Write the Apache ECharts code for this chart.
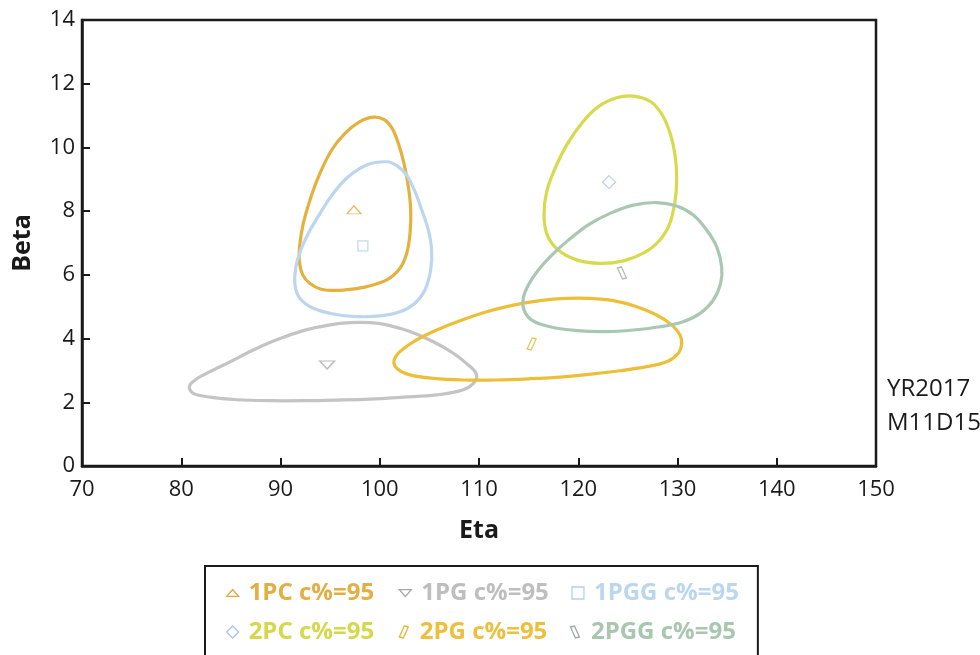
<!DOCTYPE html>
<html><head><meta charset="utf-8">
<script src="https://cdn.jsdelivr.net/npm/echarts@6/dist/echarts.min.js"></script>
<style>html,body{margin:0;padding:0;background:#fff}#c{width:980px;height:655px}</style>
</head><body><div id="c"></div>
<script>
// ---- data ----
const xTicks = [70, 80, 90, 100, 110, 120, 130, 140, 150];
const yTicks = [0, 2, 4, 6, 8, 10, 12, 14];
const groupNames = ['1PC c%=95', '1PG c%=95', '1PGG c%=95', '2PC c%=95', '2PG c%=95', '2PGG c%=95'];

const contour1PC = [[99.35,10.95],[100.45,10.87],[101.25,10.60],[101.87,10.13],[102.44,9.50],[102.88,8.77],[103.12,8.04],[103.05,7.30],[102.72,6.68],[102.04,6.21],[100.70,5.84],[98.69,5.63],[97.20,5.55],[95.59,5.51],[94.10,5.55],[93.00,5.72],[92.24,6.00],[91.89,6.47],[91.96,6.99],[92.30,7.62],[92.97,8.35],[93.98,9.19],[95.16,9.92],[96.50,10.44],[97.95,10.80]];
const contour1PG = [[99.02,4.50],[100.70,4.43],[103.05,4.22],[105.40,3.90],[107.41,3.54],[108.92,3.17],[109.70,2.91],[109.60,2.65],[108.42,2.39],[105.74,2.23],[102.37,2.16],[99.02,2.10],[95.66,2.07],[92.30,2.05],[88.94,2.05],[85.59,2.08],[82.90,2.16],[81.21,2.28],[80.81,2.49],[81.39,2.70],[82.90,2.96],[84.91,3.27],[87.26,3.64],[89.62,3.96],[92.30,4.25],[94.99,4.43],[97.00,4.50]];
const contour1PGG = [[100.70,9.55],[101.75,9.42],[102.72,9.13],[103.55,8.61],[104.23,8.04],[104.89,7.41],[105.23,6.78],[105.13,6.15],[104.56,5.53],[103.55,5.11],[102.04,4.84],[100.03,4.71],[97.68,4.69],[95.32,4.77],[93.31,4.95],[91.96,5.26],[91.46,5.68],[91.56,6.26],[92.04,6.78],[92.80,7.30],[93.98,7.93],[95.32,8.56],[96.83,9.08],[98.69,9.45]];
const contour2PC = [[125.55,11.61],[127.23,11.45],[128.41,11.05],[129.25,10.45],[129.75,9.76],[129.92,9.03],[129.75,8.30],[129.17,7.57],[128.07,7.04],[126.56,6.68],[124.54,6.44],[122.19,6.36],[119.84,6.47],[117.99,6.78],[116.88,7.25],[116.55,7.88],[116.82,8.61],[117.66,9.34],[118.84,10.08],[120.35,10.76],[122.02,11.28],[123.87,11.56]];
const contour2PG = [[121.18,5.26],[123.53,5.19],[125.89,5.00],[127.90,4.74],[129.42,4.43],[130.25,4.11],[130.42,3.85],[130.08,3.54],[128.91,3.27],[126.90,3.12],[124.21,2.99],[121.52,2.89],[118.49,2.80],[115.14,2.74],[111.78,2.70],[108.42,2.70],[105.40,2.75],[103.05,2.86],[101.71,3.07],[101.44,3.31],[102.04,3.59],[103.72,3.96],[105.74,4.27],[108.09,4.56],[110.78,4.84],[113.46,5.05],[116.15,5.19],[118.84,5.26]];
const contour2PGG = [[127.90,8.27],[129.92,8.16],[131.59,7.88],[132.94,7.41],[133.95,6.88],[134.45,6.26],[134.35,5.74],[133.61,5.21],[132.27,4.79],[130.58,4.53],[128.24,4.37],[125.55,4.27],[122.87,4.22],[119.84,4.25],[117.15,4.37],[115.31,4.58],[114.53,4.90],[114.46,5.26],[114.97,5.68],[115.98,6.15],[117.33,6.62],[119.00,7.09],[121.01,7.57],[123.20,7.93],[125.55,8.19]];

const center1PC = [97.4, 8.04];
const center1PG = [94.7, 3.17];
const center1PGG = [98.3, 6.91];
const center2PC = [123.1, 8.91];
const center2PG = [115.3, 3.83];
const center2PGG = [124.4, 6.06];

const sideNote = ['YR2017', 'M11D15'];

// ---- styling ----
const contours = [contour1PC, contour1PG, contour1PGG, contour2PC, contour2PG, contour2PGG];
const centers = [center1PC, center1PG, center1PGG, center2PC, center2PG, center2PGG];
const lineColors = ['#E4B13E', '#C4C4C4', '#BDD6EE', '#D7DA4C', '#EDBF39', '#A9C8B3'];
const textColors = ['#E3AF43', '#BEBEBE', '#BCD6EE', '#D5D84B', '#EDBF3C', '#A8C6B0'];
const markerColors = ['#DEA941', '#A8A8A8', '#B3D0EC', '#A9C6EA', '#E5B633', '#9FA7A5'];
const markerSymbols = [
  'path://M0,8L7,0L14,8Z',
  'path://M0,0L14,0L7,8Z',
  'path://M0,0L10,0L10,10L0,10Z',
  'path://M6,0L12,6L6,12L0,6Z',
  'path://M5,0L9,1L4,12L0,11Z',
  'path://M0,1L4,0L9,11L5,12Z'
];
const markerSizes = [[14,8],[15,8],[10,10],[13,13],[9,12],[9,12]];

const series = [];
contours.forEach((pts, i) => {
  series.push({
    name: groupNames[i], type: 'custom', data: pts, z: 2,
    coordinateSystem: 'cartesian2d',
    encode: { x: 0, y: 1 },
    itemStyle: { color: lineColors[i] },
    renderItem: function (params, api) {
      if (params.dataIndex !== 0) return null;
      const pix = pts.map(p => api.coord(p));
      return {
        type: 'polygon',
        shape: { points: pix, smooth: 0.35 },
        style: { fill: 'none', stroke: lineColors[i], lineWidth: 3.2, lineJoin: 'round' },
        silent: true
      };
    }
  });
});
centers.forEach((c, i) => {
  series.push({
    name: groupNames[i], type: 'scatter', data: [c], z: 3,
    symbol: markerSymbols[i], symbolSize: markerSizes[i],
    itemStyle: { color: 'rgba(255,255,255,0)', borderColor: markerColors[i], borderWidth: 1.3 }
  });
});

const chart = echarts.init(document.getElementById('c'));
chart.setOption({
  animation: false,
  backgroundColor: '#fff',
  grid: { left: 82, right: 104, top: 20, bottom: 189, show: true, borderColor: '#1a1a1a', borderWidth: 2.5, backgroundColor: 'transparent' },
  xAxis: {
    type: 'value', min: xTicks[0], max: xTicks[xTicks.length-1], interval: 10,
    name: 'Eta', nameLocation: 'middle', nameGap: 52,
    nameTextStyle: { fontFamily: 'Open Sans', fontWeight: 'bold', fontSize: 25, color: '#1a1a1a' },
    axisLine: { lineStyle: { color: '#1a1a1a', width: 2.5 } },
    axisTick: { inside: true, length: 8, lineStyle: { color: '#1a1a1a', width: 2 } },
    axisLabel: { fontFamily: 'Open Sans', fontSize: 22, color: '#1a1a1a', margin: 13 },
    splitLine: { show: false }
  },
  yAxis: {
    type: 'value', min: yTicks[0], max: yTicks[yTicks.length-1], interval: 2,
    name: 'Beta', nameLocation: 'middle', nameGap: 47,
    nameTextStyle: { fontFamily: 'Open Sans', fontWeight: 'bold', fontSize: 25, color: '#1a1a1a' },
    axisLine: { lineStyle: { color: '#1a1a1a', width: 2.5 } },
    axisTick: { inside: true, length: 8, lineStyle: { color: '#1a1a1a', width: 2 } },
    axisLabel: { fontFamily: 'Open Sans', fontSize: 22, color: '#1a1a1a', margin: 7 },
    splitLine: { show: false }
  },
  legend: {
    left: 205, top: 566, width: 540,
    orient: 'horizontal',
    padding: [12, 19, 30, 21],
    borderColor: '#1a1a1a', borderWidth: 2,
    itemWidth: 12, itemHeight: 12, itemGap: 9,
    symbolKeepAspect: true,
    selectedMode: false,
    textStyle: { fontFamily: 'Open Sans', fontWeight: 'bold', fontSize: 24, width: 141, lineHeight: 30, padding: [0, 0, 0, 5] },
    data: groupNames.map((n, i) => ({
      name: n, icon: markerSymbols[i],
      itemStyle: { color: 'rgba(255,255,255,0)', borderColor: markerColors[i], borderWidth: 1.3 },
      textStyle: { color: textColors[i] }
    }))
  },
  graphic: [{
    type: 'text', left: 887, top: 372,
    style: { text: sideNote.join('\n'), fontFamily: 'Open Sans', fontSize: 24, lineHeight: 34, fill: '#1a1a1a' }
  }],
  series: series
});
</script></body></html>
